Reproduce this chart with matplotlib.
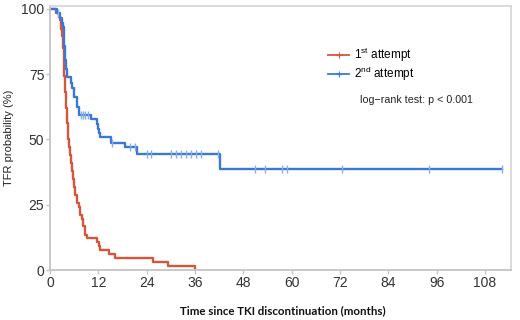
import matplotlib
matplotlib.use('Agg')
import matplotlib.pyplot as plt
from matplotlib.lines import Line2D
import numpy as np

plt.rcParams['font.family'] = ['Liberation Sans', 'DejaVu Sans']
plt.rcParams['mathtext.fontset'] = 'custom'
plt.rcParams['mathtext.rm'] = 'Liberation Sans'

# Kaplan-Meier steps (months, % TFR)
red_t = [0, 1.6, 2.2, 2.6, 2.8, 3.0, 3.2, 3.4, 3.6, 3.8, 4.0, 4.2, 4.4, 4.6, 4.8,
         5.0, 5.3, 5.5, 5.7, 6.0, 6.3, 6.7, 7.1, 7.5, 8.0, 8.3, 8.6, 8.8, 9.1,
         11.7, 12.1, 12.5, 14.6, 16.2, 25.6, 29.2, 36.0]
red_s = [100, 98.5, 97.0, 95.5, 92.4, 89.4, 84.8, 80.3, 74.2, 68.2, 62.1, 56.1, 51.5, 50.0, 47.0,
         43.9, 40.9, 37.9, 34.8, 31.8, 28.8, 25.8, 24.2, 21.2, 19.7, 16.7, 15.2, 13.6, 12.1,
         10.6, 9.1, 7.6, 6.1, 4.5, 3.0, 1.5, 0.0]

blue_t = [0, 1.7, 2.4, 3.0, 3.2, 3.4, 3.6, 3.8, 4.0, 4.2, 5.25, 5.6, 6.1, 6.7, 7.1,
          10.25, 11.7, 12.0, 12.2, 12.5, 15.2, 18.75, 21.7, 42.2, 112.3]
blue_s = [100, 98.2, 96.4, 94.6, 92.9, 89.3, 85.7, 80.4, 76.8, 73.7, 71.4, 69.6, 66.1, 62.5, 59.5,
          57.7, 55.9, 54.1, 52.3, 50.8, 48.8, 47.0, 44.3, 38.8, 38.8]
blue_cens = [2.0, 7.6, 8.2, 8.8, 9.5, 15.5, 20.0, 21.0, 24.2, 25.0, 30.0, 31.2, 32.5, 33.7,
             35.0, 36.2, 37.5, 41.7, 50.8, 53.3, 57.6, 58.8, 72.5, 94.2, 112.3]

xticks = np.arange(0, 109, 12)
yticks = [0, 25, 50, 75, 100]

red = '#d4573c'
blue = '#3b78d6'
blue_light = '#86aeea'
grey = '#c4c4c4'

def surv_at(t, ts, ss):
    i = np.searchsorted(ts, t, side='right') - 1
    return ss[i]

fig = plt.figure(figsize=(5.2, 3.2), dpi=100)
ax = fig.add_axes([0.096, 0.156, 0.887, 0.825])

ax.step(red_t, red_s, where='post', color=red, lw=1.7)
ax.step(blue_t, blue_s, where='post', color=blue, lw=1.7)
ax.plot(blue_cens, [surv_at(c, blue_t, blue_s) for c in blue_cens], ls='none',
        marker='|', ms=6, mew=1.0, color=blue_light)

ax.set_xlim(0, 114.5)
ax.set_ylim(0, 101)
ax.set_xticks(xticks)
ax.set_yticks(yticks)
ax.tick_params(labelsize=10, length=3, width=1, color=grey, pad=1, labelcolor='#333333')

for s in ax.spines.values():
    s.set_color(grey)
    s.set_linewidth(1.3)
ax.spines['top'].set_color('#d8d8d8')
ax.spines['right'].set_color('#d8d8d8')

ax.set_ylabel('TFR probability (%)', fontsize=8, color='#222222', labelpad=5)
fig.text(0.543, 0.012, 'Time since TKI discontinuation (months)', fontsize=8.3,
         fontweight='bold', family=['Lato', 'DejaVu Sans'], ha='center', va='bottom',
         color='#111111')

handles = [Line2D([], [], color=red, lw=1.3, marker='+', ms=5, mew=0.8),
           Line2D([], [], color=blue, lw=1.3, marker='+', ms=5, mew=0.8)]
ax.legend(handles, [r'1$^{\rm st}$ attempt', r'2$^{\rm nd}$ attempt'],
          loc='upper left', bbox_to_anchor=(0.603, 0.85), frameon=False,
          fontsize=8.5, handlelength=1.8, handletextpad=0.4, labelspacing=0.1,
          borderaxespad=0, borderpad=0)
ax.text(0.672, 0.644, 'log\u2212rank test: p < 0.001', transform=ax.transAxes,
        fontsize=7.7, color='#222222', va='center')

fig.savefig('out.png', dpi=100)
